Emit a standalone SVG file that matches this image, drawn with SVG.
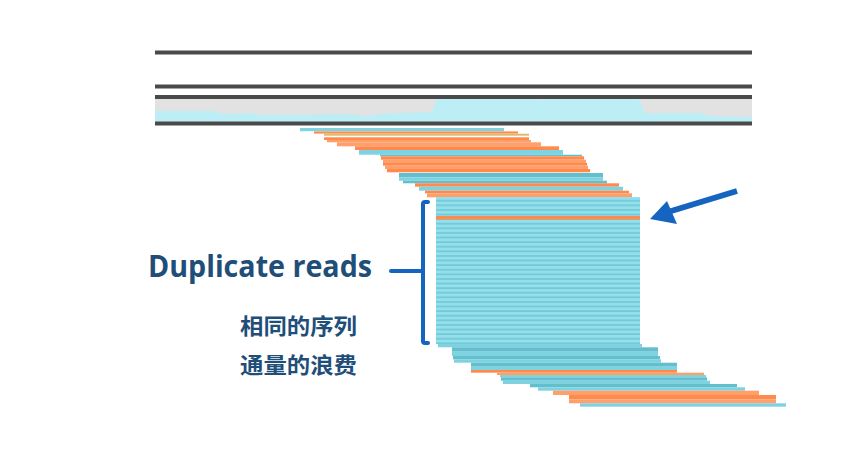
<svg xmlns="http://www.w3.org/2000/svg" width="862" height="454" viewBox="0 0 862 454">
<style>
.ln{stroke:#4a4a4a;stroke-width:4;fill:none}
.c{fill:#7fd2e0}.c2{fill:#62bfce}.o{fill:#ff8a4c}.o2{fill:#ffa06c}.t{fill:#d9bc72}
.lbl{fill:#1f4e79}
.blue{fill:#1565c0}
</style>
<defs>
<pattern id="stripes" x="0" y="197" width="10" height="4.6" patternUnits="userSpaceOnUse">
<rect width="10" height="4.6" fill="#93dfeb"/>
<rect y="2.9" width="10" height="1.7" fill="#72c9d7"/>
</pattern>
</defs>
<rect width="862" height="454" fill="#ffffff"/>
<g id="tracks">
<line class="ln" x1="155" y1="52.5" x2="752" y2="52.5"/>
<line class="ln" x1="155" y1="86.5" x2="752" y2="86.5"/>
<rect x="155" y="98" width="597" height="24" fill="#e2e2e2"/>
<path d="M155,111 L215,111 L222,114 L250,113 L258,115 L300,115 L350,114 L365,116 L380,114 L400,113 L432,112 L437,98 L480,97 L500,98 L510,96 L530,98 L540,100 L560,97 L600,97 L638,97 L645,113 L700,113 L710,116 L752,117 L752,122 L155,122 Z" fill="#bdeef6"/>
<line class="ln" x1="155" y1="97" x2="752" y2="97" stroke-width="3"/>
<line class="ln" x1="155" y1="123.5" x2="752" y2="123.5"/>
</g>
<g id="reads">
<rect class="c" x="300" y="128" width="204" height="3.2"/>
<rect class="o" x="314" y="131.4" width="204" height="2.2"/>
<rect class="t" x="324" y="133.7" width="205" height="2"/>
<rect class="o" x="324" y="137.3" width="205" height="2.7"/>
<rect class="o2" x="327" y="140" width="204" height="2.3"/>
<rect class="o2" x="337" y="142.3" width="204" height="4"/>
<rect class="o" x="355" y="146.3" width="204" height="3.7"/>
<rect class="c" x="359" y="150" width="204" height="4.7"/>
<rect class="c2" x="380" y="154.7" width="202" height="1.6"/>
<rect class="o" x="381" y="156.3" width="203" height="3.4"/>
<rect class="o2" x="383" y="159.7" width="203" height="3.3"/>
<rect class="o" x="383" y="163" width="204" height="2.7"/>
<rect class="o2" x="385" y="165.7" width="203" height="3.3"/>
<rect class="o" x="387" y="169" width="203" height="3.3"/>
<rect class="c2" x="399" y="173" width="204" height="4.3"/>
<rect class="c" x="399" y="177.3" width="204" height="3.4"/>
<rect class="c2" x="403" y="180.7" width="204" height="2.6"/>
<rect class="o" x="415" y="183.3" width="204" height="3.4"/>
<rect class="c" x="419" y="186.7" width="204" height="4"/>
<rect class="o" x="425" y="190.7" width="204" height="2.6"/>
<rect class="o2" x="427" y="193.3" width="205" height="4"/>
<rect x="436" y="197" width="204" height="147" fill="url(#stripes)"/>
<rect class="o" x="436" y="216" width="204" height="3.5"/>
<rect class="c" x="438" y="344" width="204" height="3.3"/>
<rect class="c2" x="452" y="347.3" width="206" height="4.4"/>
<rect class="c" x="452" y="351.7" width="206" height="4.3"/>
<rect class="c2" x="453" y="356" width="207" height="3.3"/>
<rect class="c" x="454" y="359.3" width="207" height="3.4"/>
<rect class="c2" x="471" y="362.7" width="206" height="4"/>
<rect class="c" x="471" y="366.7" width="206" height="3.3"/>
<rect class="o" x="471" y="370" width="206" height="2.7"/>
<rect class="o2" x="497" y="372.7" width="207" height="2.3"/>
<rect class="c" x="500" y="375" width="206" height="2.3"/>
<rect class="c2" x="501" y="377.3" width="206" height="3.4"/>
<rect class="c" x="503" y="380.7" width="207" height="3.3"/>
<rect class="c2" x="530" y="384" width="207" height="3.3"/>
<rect class="c" x="538" y="387.3" width="207" height="3.4"/>
<rect class="o2" x="553" y="390.7" width="206" height="4.3"/>
<rect class="o" x="569" y="395" width="207" height="4.3"/>
<rect class="o2" x="569" y="399.3" width="207" height="4"/>
<rect class="c" x="580" y="403.3" width="206" height="3.4"/>
</g>
<g id="bracket" fill="none" stroke="#1565c0" stroke-width="4" stroke-linejoin="round" stroke-linecap="round">
<path d="M428,202 L425,202 Q423,202 423,204 L423,341 Q423,343 425,343 L428,343"/>
<line x1="391" y1="271" x2="423" y2="271"/>
</g>
<g id="arrow">
<line x1="737" y1="191" x2="668" y2="212" stroke="#1565c0" stroke-width="6"/>
<polygon class="blue" points="650,219 667,201 677,224"/>
</g>
<g id="labels" font-family="'Open Sans','Noto Sans',sans-serif">
<text class="lbl" x="148" y="277" font-size="31" font-weight="700" textLength="224" lengthAdjust="spacingAndGlyphs">Duplicate reads</text>
<text class="lbl" x="240" y="334" font-size="22" font-weight="700" font-family="'Noto Sans CJK SC',sans-serif" textLength="117" lengthAdjust="spacingAndGlyphs">相同的序列</text>
<text class="lbl" x="240" y="373" font-size="22" font-weight="700" font-family="'Noto Sans CJK SC',sans-serif" textLength="117" lengthAdjust="spacingAndGlyphs">通量的浪费</text>
</g>
</svg>
